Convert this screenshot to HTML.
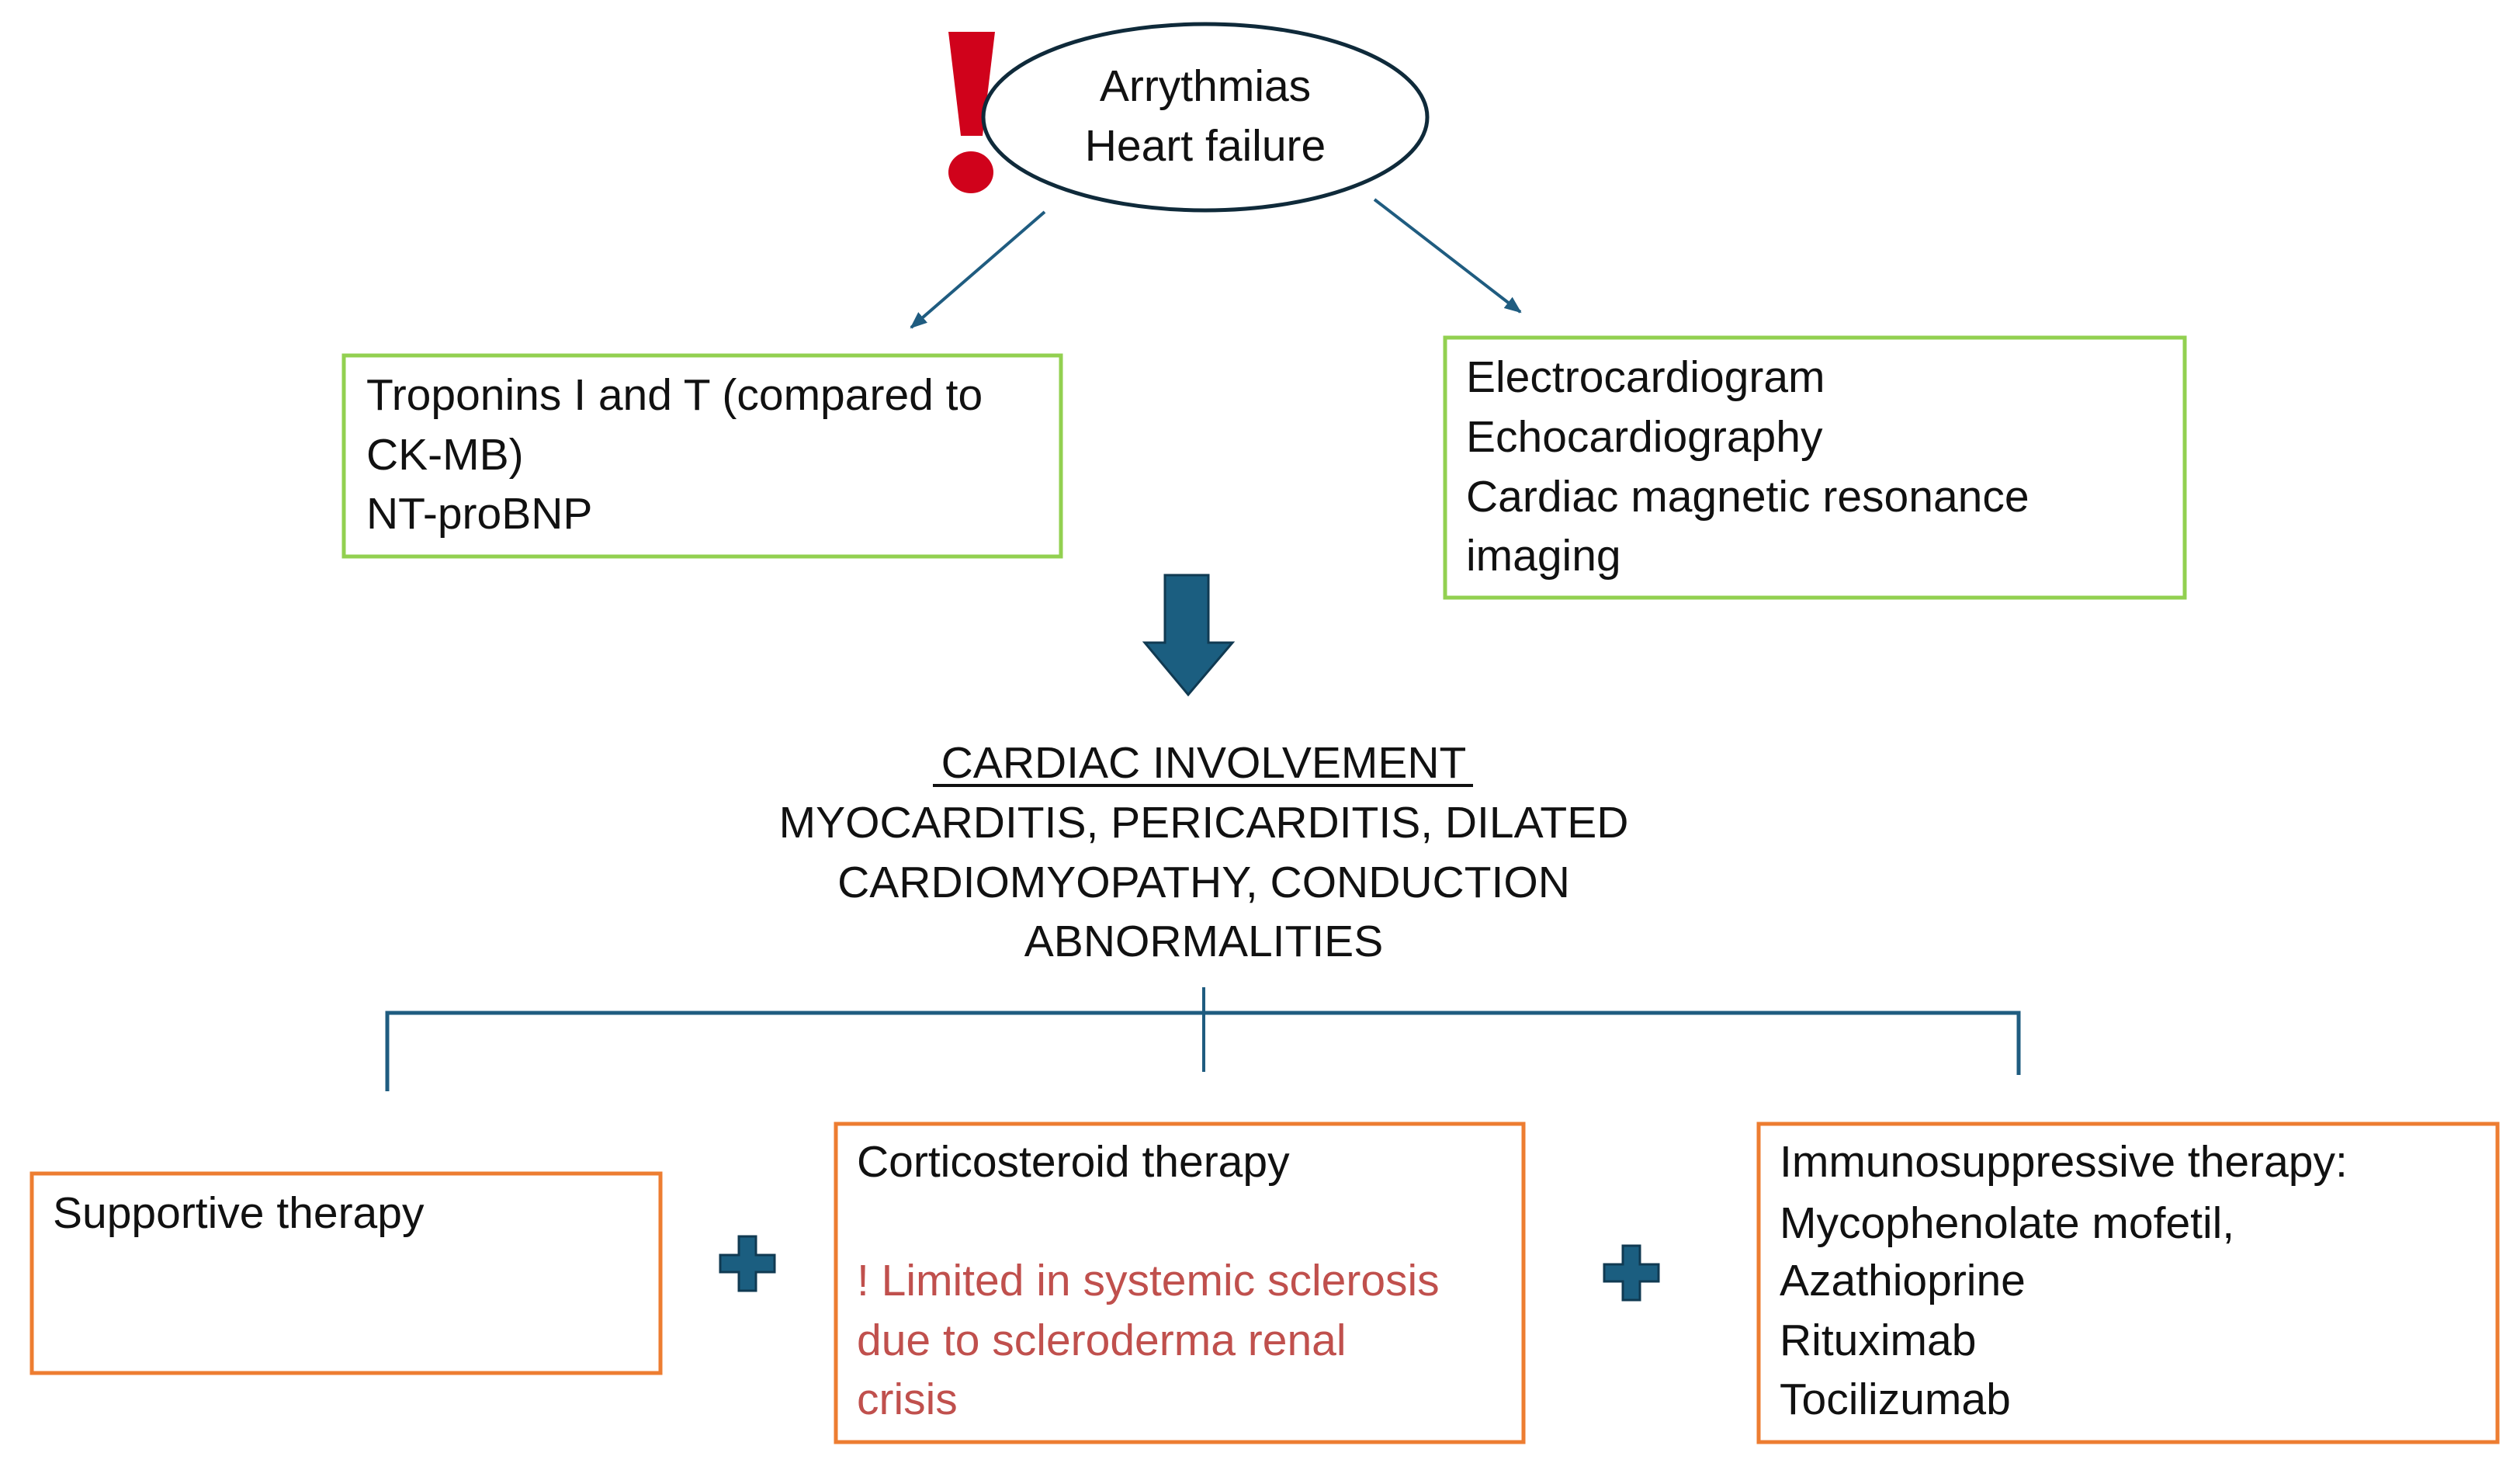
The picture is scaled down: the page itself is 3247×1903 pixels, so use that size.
<!DOCTYPE html>
<html><head><meta charset="utf-8"><style>html,body{margin:0;padding:0;background:#fff}svg{display:block}</style></head>
<body>
<svg width="3247" height="1903" viewBox="0 0 3247 1903" xmlns="http://www.w3.org/2000/svg" font-family="Liberation Sans, sans-serif" font-size="57" fill="#111">
<defs>
<marker id="ah" markerWidth="22" markerHeight="18" refX="20" refY="9" orient="auto" markerUnits="userSpaceOnUse" viewBox="0 0 22 18"><path d="M0,0 L22,9 L0,18 z" fill="#1f5c80"/></marker>
</defs>
<path d="M1222,41 L1282,41 L1266,175 L1238,175 Z" fill="#d0021b"/>
<ellipse cx="1251" cy="222" rx="29" ry="27" fill="#d0021b"/>
<ellipse cx="1553" cy="151" rx="286" ry="120" fill="#fff" stroke="#0f2a3a" stroke-width="5"/>
<text x="1553" y="130" text-anchor="middle">Arrythmias</text>
<text x="1553" y="207" text-anchor="middle">Heart failure</text>
<line x1="1346" y1="273" x2="1174" y2="422" stroke="#1f5c80" stroke-width="4" marker-end="url(#ah)"/>
<line x1="1771" y1="257" x2="1959" y2="402" stroke="#1f5c80" stroke-width="4" marker-end="url(#ah)"/>
<rect x="443" y="458" width="924" height="259" fill="none" stroke="#92d050" stroke-width="5"/>
<text x="472" y="528">Troponins I and T (compared to</text>
<text x="472" y="605">CK-MB)</text>
<text x="472" y="681">NT-proBNP</text>
<rect x="1862" y="435" width="953" height="335" fill="none" stroke="#92d050" stroke-width="5"/>
<text x="1889" y="505">Electrocardiogram</text>
<text x="1889" y="582">Echocardiography</text>
<text x="1889" y="659">Cardiac magnetic resonance</text>
<text x="1889" y="735">imaging</text>
<path d="M1501,741 L1557,741 L1557,828 L1588,828 L1531,895 L1475,828 L1501,828 Z" fill="#1b5e80" stroke="#103a52" stroke-width="3"/>
<text x="1551" y="1002" text-anchor="middle">CARDIAC INVOLVEMENT</text>
<line x1="1202" y1="1012" x2="1898" y2="1012" stroke="#111" stroke-width="4"/>
<text x="1551" y="1079" text-anchor="middle">MYOCARDITIS, PERICARDITIS, DILATED</text>
<text x="1551" y="1156" text-anchor="middle">CARDIOMYOPATHY, CONDUCTION</text>
<text x="1551" y="1232" text-anchor="middle">ABNORMALITIES</text>
<path d="M499,1406 L499,1305 L2601,1305 L2601,1385" fill="none" stroke="#1f5c80" stroke-width="5"/>
<line x1="1551" y1="1272" x2="1551" y2="1381" stroke="#1f5c80" stroke-width="4"/>
<rect x="41" y="1512" width="810" height="257" fill="none" stroke="#ed7d31" stroke-width="5"/>
<text x="68" y="1582">Supportive therapy</text>
<rect x="1077" y="1448" width="886" height="410" fill="none" stroke="#ed7d31" stroke-width="5"/>
<text x="1104" y="1516">Corticosteroid therapy</text>
<g fill="#c0504d">
<text x="1104" y="1669">! Limited in systemic sclerosis</text>
<text x="1104" y="1746">due to scleroderma renal</text>
<text x="1104" y="1822">crisis</text>
</g>
<rect x="2266" y="1448" width="952" height="410" fill="none" stroke="#ed7d31" stroke-width="5"/>
<text x="2293" y="1516">Immunosuppressive therapy:</text>
<text x="2293" y="1595">Mycophenolate mofetil,</text>
<text x="2293" y="1669">Azathioprine</text>
<text x="2293" y="1746">Rituximab</text>
<text x="2293" y="1822">Tocilizumab</text>
<path d="M952,1593 h22 v24 h24 v22 h-24 v24 h-22 v-24 h-24 v-22 h24 Z" fill="#1b5e80" stroke="#103a52" stroke-width="3"/>
<path d="M2091,1605 h22 v24 h24 v22 h-24 v24 h-22 v-24 h-24 v-22 h24 Z" fill="#1b5e80" stroke="#103a52" stroke-width="3"/>
</svg>
</body></html>
